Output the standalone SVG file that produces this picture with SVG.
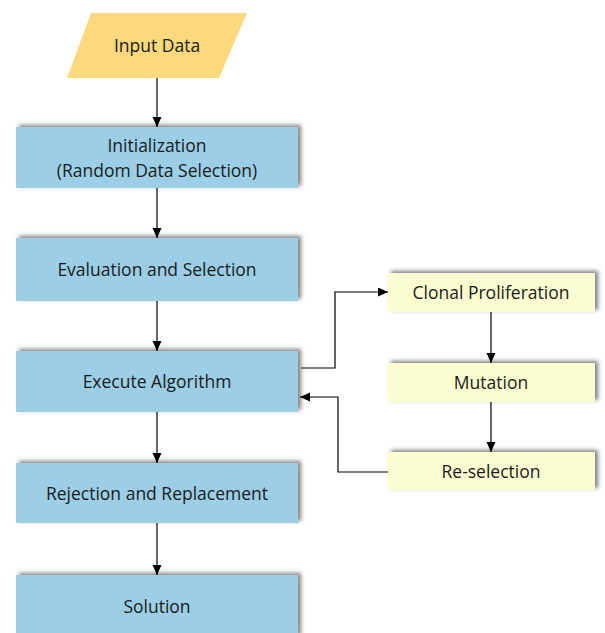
<svg xmlns="http://www.w3.org/2000/svg" width="605" height="633" viewBox="0 0 605 633">
<defs>
<filter id="sh" x="-10%" y="-20%" width="120%" height="140%">
<feDropShadow dx="3" dy="-2" stdDeviation="2" flood-color="#000" flood-opacity="0.5"/>
</filter>
<marker id="ah" markerWidth="10" markerHeight="10" refX="10" refY="4.5" orient="auto" markerUnits="userSpaceOnUse">
<path d="M0,0 L10,4.5 L0,9 z" fill="#000"/>
</marker>
<style>
.blue{fill:#9ccfe6;filter:url(#sh)}
.yel{fill:#fdfdd2;filter:url(#sh)}
.inp{fill:#fcd97c}
text{font-family:"Open Sans","Noto Sans",sans-serif;font-size:17.5px;fill:#1a1a1a;text-anchor:middle}
.c{fill:none;stroke:#000;stroke-width:1.2;marker-end:url(#ah)}
</style>
</defs>
<g id="input"><polygon class="inp" points="91,13 247,13 219,78 67,78"/><text x="157" y="52">Input Data</text></g>
<g id="init"><rect class="blue" x="16" y="127" width="282" height="61"/><text x="157" y="152">Initialization</text><text x="157" y="177">(Random Data Selection)</text></g>
<g id="eval"><rect class="blue" x="16" y="238" width="282" height="63"/><text x="157" y="276">Evaluation and Selection</text></g>
<g id="exec"><rect class="blue" x="16" y="351" width="282" height="61"/><text x="157" y="388">Execute Algorithm</text></g>
<g id="reject"><rect class="blue" x="16" y="463" width="282" height="60"/><text x="157" y="500">Rejection and Replacement</text></g>
<g id="solution"><rect class="blue" x="16" y="575" width="282" height="62"/><text x="157" y="613">Solution</text></g>
<g id="clonal"><rect class="yel" x="388" y="273" width="207" height="39"/><text x="491" y="299">Clonal Proliferation</text></g>
<g id="mutation"><rect class="yel" x="388" y="363" width="207" height="39"/><text x="491" y="389">Mutation</text></g>
<g id="reselection"><rect class="yel" x="388" y="452" width="207" height="38"/><text x="491" y="478">Re-selection</text></g>
<g id="connectors">
<path class="c" d="M157,78 V127"/>
<path class="c" d="M157,188 V238"/>
<path class="c" d="M157,301 V351"/>
<path class="c" d="M157,412 V463"/>
<path class="c" d="M157,523 V575"/>
<path class="c" d="M301,368 H335 V292 H388"/>
<path class="c" d="M491,312 V363"/>
<path class="c" d="M491,402 V452"/>
<path class="c" d="M388,472 H338 V397 H300"/>
</g>
</svg>
